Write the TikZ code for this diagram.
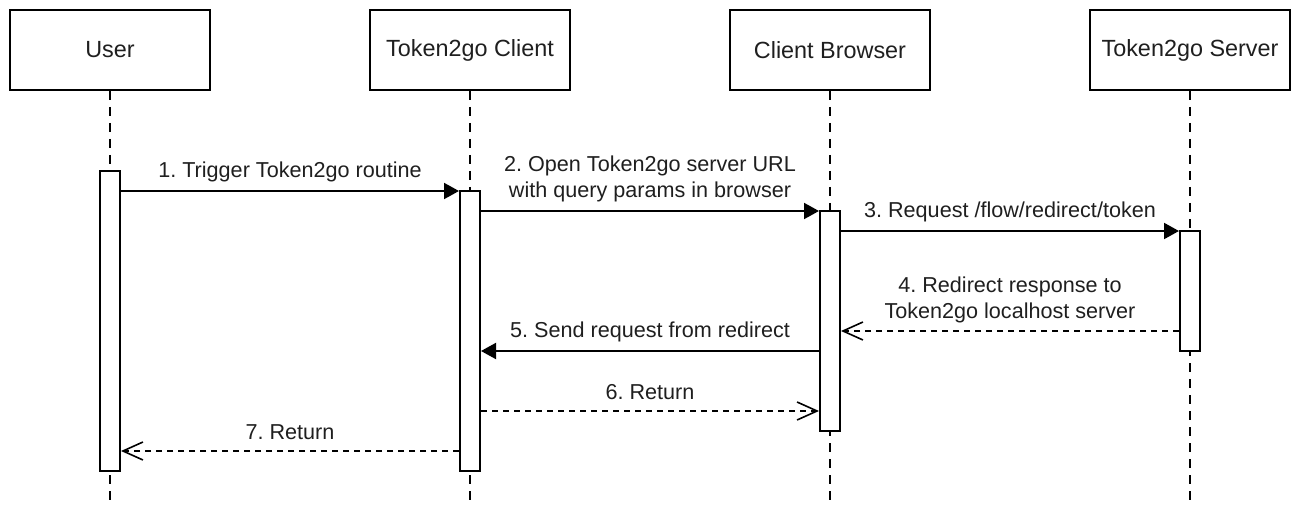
\documentclass[tikz,border=0pt]{standalone}
\usepackage{fontspec}
\setmainfont{Liberation Sans}
\frenchspacing
\usetikzlibrary{arrows.meta,calc}
\begin{document}
\begin{tikzpicture}[x=1pt,y=-1pt,
  every node/.style={font=\fontsize{21.6}{26}\selectfont, text=black!88},
  actor/.style={draw, line width=2pt, minimum width=200pt, minimum height=80pt, inner sep=0pt, font=\fontsize{23.4}{28}\selectfont},
  life/.style={line width=2pt, dash pattern=on 9pt off 7pt},
  act/.style={draw, fill=white, line width=2pt, minimum width=20pt, inner sep=0pt},
  msg/.style={line width=2pt, -{Triangle[length=15pt,width=16pt]}},
  ret/.style={line width=2pt, dash pattern=on 6pt off 5pt, -{Straight Barb[length=20pt,width=18pt,line width=1.6pt]}},
  lbl/.style={align=center, inner sep=0pt}
]
\useasboundingbox (0,0) rectangle (1302,524);
\node[actor] (u) at (110,50) {User};
\node[actor] (c) at (470,50) {Token2go Client};
\node[actor] (b) at (830,50) {Client Browser};
\node[actor] (s) at (1190,50) {Token2go Server};
\coordinate (ue) at (110,503);
\coordinate (ce) at (470,503);
\coordinate (be) at (830,503);
\coordinate (se) at (1190,503);
\draw[life] (u.south) -- (ue);
\draw[life] (c.south) -- (ce);
\draw[life] (b.south) -- (be);
\draw[life] (s.south) -- (se);
\node[act, minimum height=300pt] (ua) at (110,321) {};
\node[act, minimum height=280pt] (ca) at (470,331) {};
\node[act, minimum height=220pt] (ba) at (830,321) {};
\node[act, minimum height=120pt] (sa) at (1190,291) {};
% messages
\draw[msg] (ua.east |- 0,191) -- (ca.west |- 0,191)
  node[lbl, midway, yshift=19pt] {1. Trigger Token2go routine};
\draw[msg] (ca.east |- 0,211) -- (ba.west |- 0,211)
  node[lbl, midway, yshift=32.5pt] {2. Open Token2go server URL\\with query params in browser};
\draw[msg] (ba.east |- 0,231) -- (sa.west |- 0,231)
  node[lbl, midway, yshift=19pt] {3. Request /flow/redirect/token};
\draw[ret] (sa.west |- 0,331) -- (ba.east |- 0,331)
  node[lbl, midway, yshift=31.5pt] {4. Redirect response to\\Token2go localhost server};
\draw[msg] (ba.west |- 0,351) -- (ca.east |- 0,351)
  node[lbl, midway, yshift=19pt] {5. Send request from redirect};
\draw[ret] (ca.east |- 0,411) -- (ba.west |- 0,411)
  node[lbl, midway, yshift=19pt] {6. Return};
\draw[ret] (ca.west |- 0,451) -- (ua.east |- 0,451)
  node[lbl, midway, yshift=19pt] {7. Return};
\end{tikzpicture}
\end{document}
